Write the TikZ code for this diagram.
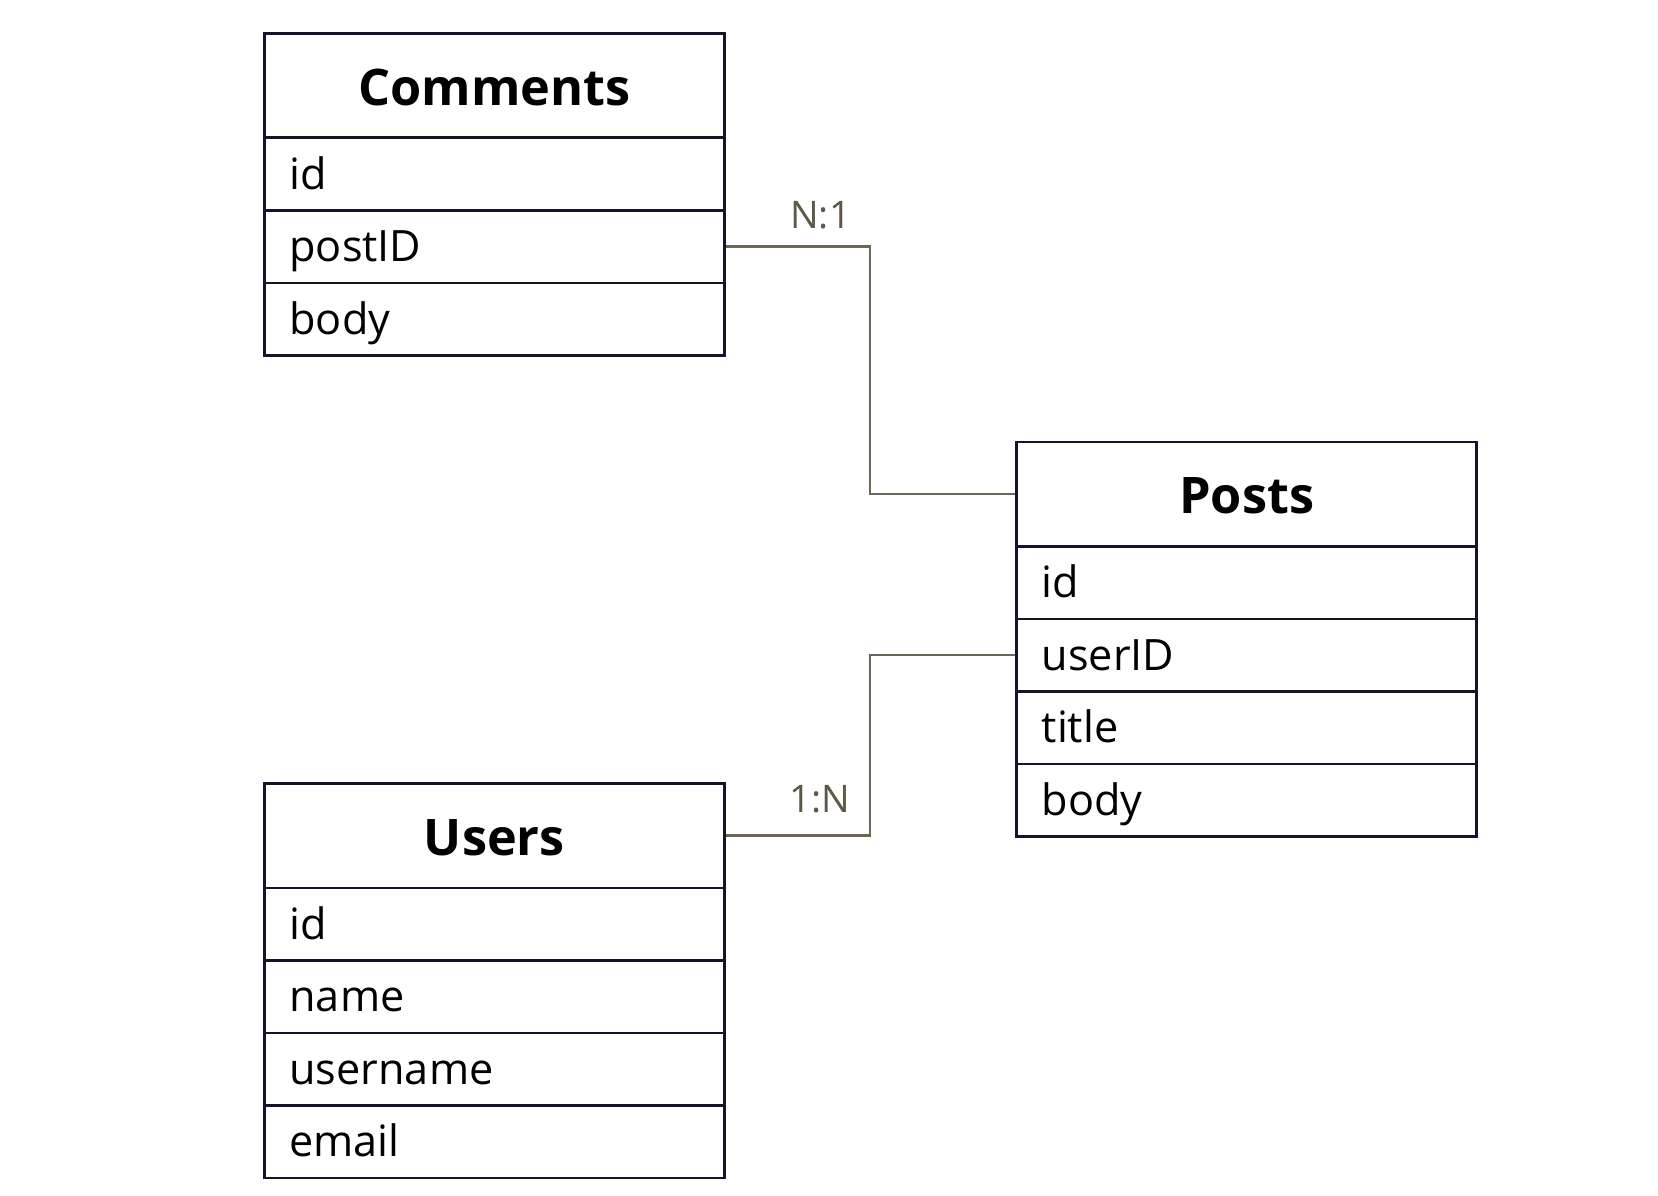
\documentclass[tikz,border=0pt]{standalone}
\usepackage{fontspec}
\setmainfont{Open Sans}
\definecolor{boxline}{RGB}{22,20,42}
\definecolor{linkline}{RGB}{110,102,84}
\definecolor{linktext}{RGB}{95,88,70}
\begin{document}
\begin{tikzpicture}[x={(0.75pt,0)},y={(0,-0.75pt)},
  hdr/.style={draw=boxline,line width=2.2pt,rectangle,anchor=north west,inner sep=0pt,
    minimum width=344.8pt,minimum height=78.375pt,text height=29.25pt,text depth=0pt,
    font=\fontsize{37.8pt}{40pt}\selectfont\bfseries},
  fld/.style={draw=boxline,line width=2.2pt,rectangle,anchor=north west,inner xsep=18.75pt,inner ysep=0pt,
    text width=307.3pt,align=left,minimum height=54.375pt,text height=22.5pt,text depth=0pt,
    font=\fontsize{32.4pt}{35pt}\selectfont},
  link/.style={draw=linkline,line width=1.9pt},
  card/.style={text=linktext,inner sep=0pt,anchor=base,font=\fontsize{28.5pt}{30pt}\selectfont}]
\useasboundingbox (0,0) rectangle (1658,1195);
% Comments
\node[hdr] (comments) at (263,32) {Comments};
\node[fld] (comments-id) at (263,136.5) {id};
\node[fld] (comments-postID) at (263,209) {postID};
\node[fld] (comments-body) at (263,281.5) {body};
% Posts
\node[hdr] (posts) at (1015.3,440.5) {Posts};
\node[fld] (posts-id) at (1015.3,545) {id};
\node[fld] (posts-userID) at (1015.3,617.5) {userID};
\node[fld] (posts-title) at (1015.3,690) {title};
\node[fld] (posts-body) at (1015.3,762.5) {body};
% Users
\node[hdr] (users) at (263,782) {Users};
\node[fld] (users-id) at (263,886.5) {id};
\node[fld] (users-name) at (263,959) {name};
\node[fld] (users-username) at (263,1031.5) {username};
\node[fld] (users-email) at (263,1104) {email};
% connectors
\coordinate (bend) at (869.8,0);
\draw[link] (comments-postID.east) -- (comments-postID.east -| bend) -- (bend |- posts.west) -- (posts.west);
\draw[link] (users.east) -- (users.east -| bend) -- (bend |- posts-userID.west) -- (posts-userID.west);
\node[card] (n1) at (820.5,228.3) {N:1};
\node[card] (1n) at (820,812.7) {1:N};
\end{tikzpicture}
\end{document}
